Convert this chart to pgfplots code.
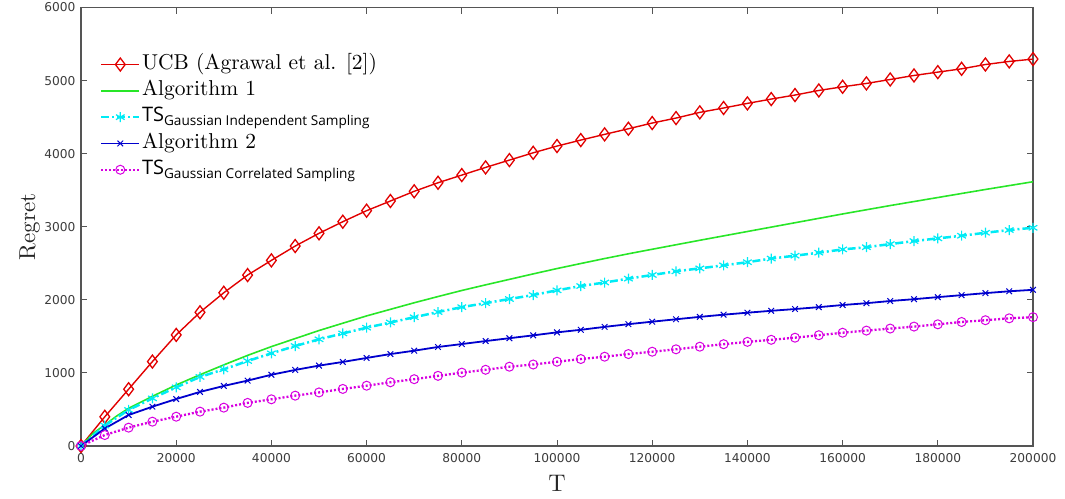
\documentclass[border=0pt]{standalone}
\usepackage{fontspec}
\usepackage{pgfplots}
\pgfplotsset{compat=1.18}
\newfontfamily\tickfont{DejaVu Sans}
\newfontfamily\lsans{Open Sans}
\newfontfamily\lmten{lmroman10-regular.otf}
\definecolor{axgray}{RGB}{85,85,85}
\definecolor{ticktxt}{RGB}{60,60,60}
\definecolor{cred}{RGB}{225,0,0}
\definecolor{cgreen}{RGB}{40,230,40}
\definecolor{ccyan}{RGB}{0,235,245}
\definecolor{cblue}{RGB}{0,0,205}
\definecolor{cmag}{RGB}{215,0,225}
\newcommand{\TSlab}[1]{{\lsans\fontsize{20}{22}\selectfont TS\raisebox{-0.38ex}{\fontsize{13.6}{16}\selectfont #1}}}
\begin{document}
\begin{tikzpicture}
\path[use as bounding box] (0,0) rectangle (1065pt,498pt);
\begin{axis}[
  at={(81pt,52pt)}, anchor=south west,
  scale only axis, width=952pt, height=438.5pt,
  xmin=0, xmax=200000, ymin=0, ymax=6000,
  xtick={0,20000,40000,60000,80000,100000,120000,140000,160000,180000,200000},
  xticklabels={0,20000,40000,60000,80000,100000,120000,140000,160000,180000,200000},
  ytick={0,1000,2000,3000,4000,5000,6000},
  yticklabels={0,1000,2000,3000,4000,5000,6000},
  scaled x ticks=false, scaled y ticks=false,
  tick label style={font=\tickfont\fontsize{12.2}{14}\selectfont, text=ticktxt},
  xtick pos=both, ytick pos=both, ticklabel pos=left,
  tick align=inside, major tick length=6pt,
  axis line style={axgray, line width=1.1pt},
  tick style={axgray, line width=1pt},
  xticklabel style={yshift=-4pt},
  yticklabel style={xshift=-2pt},
  xlabel={T}, ylabel={Regret},
  xlabel style={font=\lmten\fontsize{24}{26}\selectfont, text=black!85, at={(axis description cs:0.5,-0.085)}, anchor=center},
  ylabel style={font=\lmten\fontsize{23}{25}\selectfont, text=black!85, at={(axis description cs:-0.054,0.5)}, anchor=center},
  legend style={at={(0.02,0.899)}, anchor=north west, draw=none, fill=none, inner sep=0pt, outer sep=0pt,
    font=\lmten\fontsize{21.5}{23}\selectfont, row sep=0.8pt,
    nodes={inner sep=1.5pt, anchor=west, text height=16pt, text depth=6.5pt}},
  legend cell align=left,
  legend image code/.code={\draw[mark repeat=2,mark phase=2] plot coordinates {(0pt,0pt) (19pt,0pt) (38pt,0pt)};},
]
\addplot[cred, line width=1.4pt, mark=diamond, mark size=6.5pt, mark options={solid, line width=1.3pt}] coordinates {
(0,0)(5000,400)(10000,777)(15000,1155)(20000,1520)(25000,1830)(30000,2097)(35000,2339)(40000,2540)(45000,2736)(50000,2910)(55000,3069)(60000,3220)(65000,3352)(70000,3485)(75000,3602)(80000,3707)(85000,3812)(90000,3912)(95000,4012)(100000,4104)(105000,4186)(110000,4264)(115000,4341)(120000,4419)(125000,4487)(130000,4565)(135000,4625)(140000,4688)(145000,4747)(150000,4802)(155000,4865)(160000,4915)(165000,4961)(170000,5015)(175000,5070)(180000,5116)(185000,5161)(190000,5220)(195000,5262)(200000,5294)};
\addlegendentry{UCB (Agrawal et al. [2])}
\addplot[cgreen, line width=1.6pt, mark=none, legend image code/.code={\draw[cgreen, line width=1.8pt] (0pt,0pt) -- (38pt,0pt);}] coordinates {
(0,0)(2500,170)(5000,290)(7500,410)(10000,516)(15000,680)(20000,835)(25000,975)(30000,1110)(35000,1240)(40000,1360)(45000,1470)(50000,1580)(55000,1680)(60000,1780)(65000,1870)(70000,1960)(75000,2045)(80000,2128)(85000,2205)(90000,2280)(95000,2355)(100000,2428)(105000,2497)(110000,2565)(115000,2630)(120000,2692)(130000,2815)(140000,2935)(150000,3055)(160000,3175)(170000,3290)(180000,3400)(190000,3510)(200000,3616)};
\addlegendentry{Algorithm 1}
\addplot[ccyan, line width=2.5pt, dash pattern=on 8pt off 3pt on 2pt off 3pt, mark=asterisk, mark size=5pt, mark options={solid, line width=1.2pt}] coordinates {
(0,0)(5000,280)(10000,493)(15000,652)(20000,803)(25000,945)(30000,1049)(35000,1163)(40000,1268)(45000,1368)(50000,1460)(55000,1540)(60000,1619)(65000,1690)(70000,1762)(75000,1833)(80000,1900)(85000,1955)(90000,2011)(95000,2066)(100000,2130)(105000,2189)(110000,2237)(115000,2290)(120000,2340)(125000,2390)(130000,2431)(135000,2472)(140000,2515)(145000,2565)(150000,2604)(155000,2645)(160000,2690)(165000,2720)(170000,2763)(175000,2804)(180000,2841)(185000,2877)(190000,2918)(195000,2955)(200000,2986)};
\addlegendentry{\TSlab{Gaussian Independent Sampling}}
\addplot[cblue, line width=1.8pt, mark=x, mark size=4pt, mark options={solid, line width=1pt}] coordinates {
(0,0)(5000,240)(10000,424)(15000,538)(20000,643)(25000,740)(30000,822)(35000,895)(40000,975)(45000,1041)(50000,1100)(55000,1150)(60000,1205)(65000,1258)(70000,1304)(75000,1355)(80000,1395)(85000,1436)(90000,1475)(95000,1514)(100000,1555)(105000,1590)(110000,1630)(115000,1667)(120000,1701)(125000,1734)(130000,1767)(135000,1797)(140000,1824)(145000,1850)(150000,1874)(155000,1900)(160000,1929)(165000,1954)(170000,1984)(175000,2009)(180000,2037)(185000,2064)(190000,2092)(195000,2117)(200000,2137)};
\addlegendentry{Algorithm 2}
\addplot[cmag, line width=2.3pt, dash pattern=on 2pt off 2pt, mark=o, mark size=4.5pt, mark options={solid, line width=1pt}] coordinates {
(0,0)(5000,150)(10000,251)(15000,333)(20000,401)(25000,470)(30000,525)(35000,590)(40000,639)(45000,689)(50000,733)(55000,781)(60000,825)(65000,872)(70000,914)(75000,960)(80000,1004)(85000,1043)(90000,1085)(95000,1115)(100000,1153)(105000,1190)(110000,1222)(115000,1258)(120000,1290)(125000,1323)(130000,1359)(135000,1393)(140000,1425)(145000,1453)(150000,1482)(155000,1516)(160000,1550)(165000,1579)(170000,1607)(175000,1634)(180000,1665)(185000,1697)(190000,1721)(195000,1747)(200000,1763)};
\addlegendentry{\TSlab{Gaussian Correlated Sampling}}
\end{axis}
\end{tikzpicture}
\end{document}
